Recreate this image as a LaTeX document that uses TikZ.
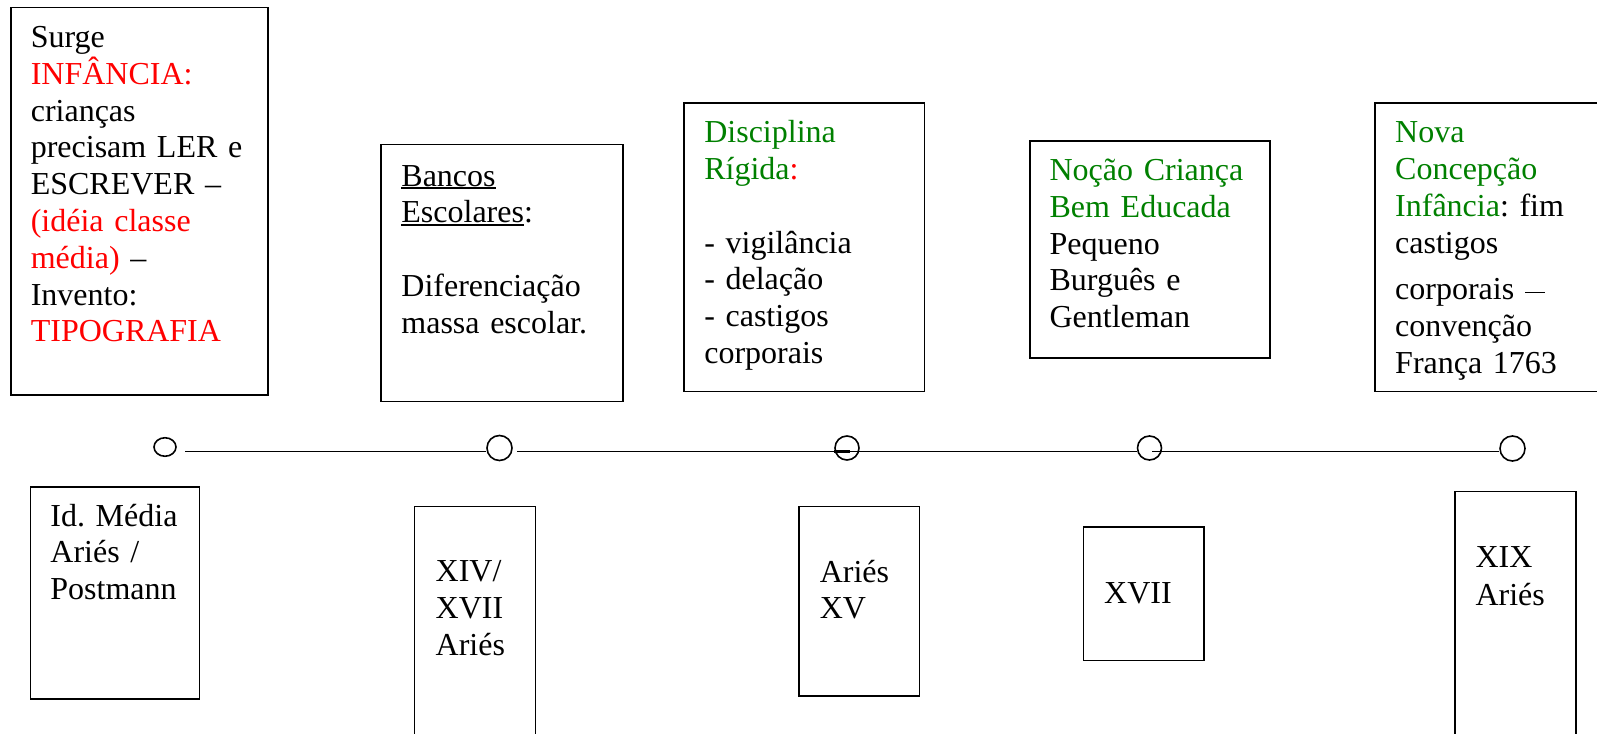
\documentclass[tikz,border=0pt]{standalone}
\usepackage{fontspec}
\setmainfont{Liberation Serif}
\usetikzlibrary{shapes.geometric}
\definecolor{tred}{HTML}{FF0000}
\definecolor{tgreen}{HTML}{008000}
\newcommand\rd[1]{\textcolor{tred}{#1}}
\newcommand\gr[1]{\textcolor{tgreen}{#1}}
\newcommand\myul[1]{\leavevmode\setbox0\hbox{#1}\copy0\llap{\rule[-2.8pt]{\wd0}{1.5pt}}}
\newcommand\mydash{\hspace*{11pt}\rule[6.8pt]{20pt}{1.5pt}}
\tikzset{
  box/.style={draw, line width=1.5pt, inner sep=0pt, anchor=north west, rectangle},
  txt/.style={anchor=base west, inner sep=0pt, align=left, text width=300pt,
    font=\fontsize{32}{36.8}\selectfont\frenchspacing},
  dot/.style={circle, draw, line width=1.6pt, inner sep=0pt, minimum size=25pt},
  tl/.style={line width=1.4pt}
}
\begin{document}
\begin{tikzpicture}[x=1pt,y=-1pt]
\useasboundingbox (0,0) rectangle (1597,733);
\clip (0,0) rectangle (1597,733);
% upper boxes
\node[box, minimum width=257.1pt, minimum height=387pt] (b1) at (10.2,7) {};
\node[box, minimum width=242.4pt, minimum height=257.2pt] (b2) at (380,143.5) {};
\node[box, minimum width=240.7pt, minimum height=288.4pt] (b3) at (683,102.4) {};
\node[box, minimum width=240pt, minimum height=216.9pt] (b4) at (1029,140.3) {};
\node[box, minimum width=240pt, minimum height=288.4pt] (b5) at (1374,102.4) {};
% lower boxes
\node[box, minimum width=169pt, minimum height=211.8pt] (l1) at (29.8,486.2) {};
\node[box, minimum width=121pt, minimum height=250pt] (l2) at (413.6,505.5) {};
\node[box, minimum width=120.4pt, minimum height=189.4pt] (l3) at (798.4,505.8) {};
\node[box, minimum width=120.4pt, minimum height=133.3pt] (l4) at (1082.9,526.4) {};
\node[box, minimum width=120.7pt, minimum height=260pt] (l5) at (1454.3,490.9) {};
% texts
\node[txt] (t1) at (30.6,47.5) {Surge\\ \rd{INFÂNCIA:}\\ crianças\\ precisam LER e\\ ESCREVER –\\ \rd{(idéia classe}\\ \rd{média)} –\\ Invento:\\ \rd{TIPOGRAFIA}};
\node[txt] (t2) at (401.2,186) {\myul{Bancos}\\ \myul{Escolares}:\\[36.8pt] Diferenciação\\ massa escolar.};
\node[txt] (t3) at (704.1,142.6) {\gr{Disciplina}\\ \gr{Rígida}\rd{:}\\[36.8pt] - vigilância\\ - delação\\ - castigos\\ corporais};
\node[txt] (t4) at (1049.4,180.5) {\gr{Noção Criança}\\ \gr{Bem Educada}\\ Pequeno\\ Burguês e\\ Gentleman};
\node[txt] (t5) at (1395,142.6) {\gr{Nova}\\ \gr{Concepção}\\ \gr{Infância}: fim\\ castigos\\[10pt] corporais\mydash\\ convenção\\ França 1763};
\node[txt] (u1) at (50.2,526) {Id. Média\\ Ariés /\\ Postmann};
\node[txt] (u2) at (435.5,581.7) {XIV/\\ XVII\\ Ariés};
\node[txt] (u3) at (819.6,582) {Ariés\\ XV};
\node[txt] (u4) at (1104,603) {XVII};
\node[txt] (u5) at (1475.3,567) {XIX\\[1.6pt] Ariés};
% timeline
\node[ellipse, draw, line width=1.6pt, inner sep=0pt, minimum width=22pt, minimum height=18.5pt] (c1) at (165,447) {};
\node[dot] (c2) at (499.5,448) {};
\node[dot, minimum size=24pt] (c3) at (847,448) {};
\node[dot, minimum size=24pt] (c4) at (1149.5,448) {};
\node[dot] (c5) at (1512.5,448.5) {};
\draw[tl] ([xshift=8.3pt,yshift=-4.3pt]c1.east) -- ([yshift=-3.3pt]c2.west);
\draw[tl] ([xshift=4.5pt,yshift=-3.3pt]c2.east) -- ([yshift=-3.3pt]c4.west);
\draw[tl] ([xshift=2.5pt,yshift=-3.3pt]c4.center) -- ([yshift=-2.8pt]c5.west);
\draw[line width=2.6pt] ([yshift=-3.3pt]c3.west) -- ([xshift=3pt,yshift=-3.3pt]c3.center);
\end{tikzpicture}
\end{document}
